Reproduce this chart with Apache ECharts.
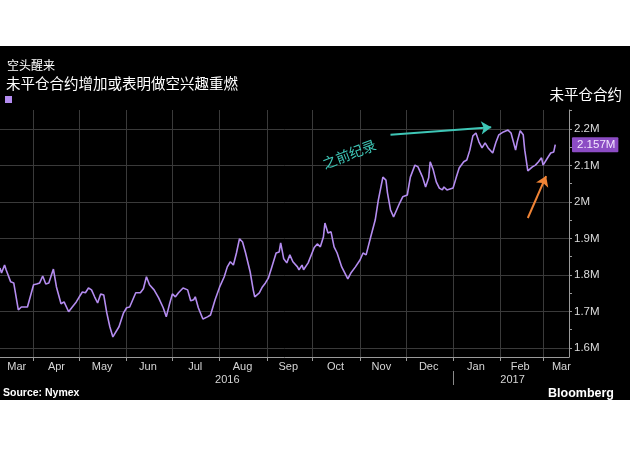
<!DOCTYPE html>
<html><head><meta charset="utf-8">
<script src="https://cdn.jsdelivr.net/npm/echarts@6/dist/echarts.min.js"></script>
<style>
html,body{margin:0;padding:0;background:#fff;width:630px;height:450px;overflow:hidden}
#c{position:absolute;left:0;top:46px;width:630px;height:354px;background:#000}
</style>
</head><body><div id="c"></div>
<script>
// ---- data ----
const dates = [
'2016-03-10','2016-03-11','2016-03-13','2016-03-14','2016-03-17','2016-03-19','2016-03-22','2016-03-24','2016-03-28',
'2016-04-01','2016-04-03','2016-04-05','2016-04-07','2016-04-09','2016-04-11','2016-04-14','2016-04-16','2016-04-19','2016-04-21','2016-04-24','2016-04-26','2016-04-29',
'2016-05-01','2016-05-03','2016-05-05','2016-05-07','2016-05-09','2016-05-11','2016-05-13','2016-05-15','2016-05-17','2016-05-19','2016-05-21','2016-05-23','2016-05-24','2016-05-27','2016-05-30',
'2016-06-01','2016-06-03','2016-06-07','2016-06-10','2016-06-12','2016-06-14','2016-06-16','2016-06-19','2016-06-22','2016-06-25','2016-06-27','2016-06-29',
'2016-07-01','2016-07-03','2016-07-05','2016-07-08','2016-07-11','2016-07-12','2016-07-13','2016-07-15','2016-07-16','2016-07-18','2016-07-21','2016-07-24','2016-07-26','2016-07-29',
'2016-08-01','2016-08-04','2016-08-06','2016-08-08','2016-08-10','2016-08-12','2016-08-14','2016-08-16','2016-08-18','2016-08-21','2016-08-22','2016-08-23','2016-08-24','2016-08-27','2016-08-29','2016-08-31',
'2016-09-02','2016-09-04','2016-09-07','2016-09-09','2016-09-10','2016-09-12','2016-09-14','2016-09-16','2016-09-18','2016-09-21','2016-09-22','2016-09-24','2016-09-25','2016-09-28','2016-09-29',
'2016-10-02','2016-10-04','2016-10-06','2016-10-08','2016-10-09','2016-10-11','2016-10-13','2016-10-15','2016-10-17','2016-10-20','2016-10-24','2016-10-26','2016-10-29',
'2016-11-01','2016-11-03','2016-11-05','2016-11-08','2016-11-11','2016-11-13','2016-11-16','2016-11-18','2016-11-19','2016-11-21','2016-11-23','2016-11-25','2016-11-27','2016-11-29',
'2016-12-02','2016-12-04','2016-12-07','2016-12-09','2016-12-12','2016-12-14','2016-12-16','2016-12-17','2016-12-19','2016-12-21','2016-12-23','2016-12-25','2016-12-26','2016-12-28',
'2017-01-01','2017-01-03','2017-01-05','2017-01-08','2017-01-10','2017-01-12','2017-01-14','2017-01-16','2017-01-18','2017-01-20','2017-01-22','2017-01-24','2017-01-27','2017-01-29','2017-01-31',
'2017-02-03','2017-02-06','2017-02-08','2017-02-11','2017-02-12','2017-02-14','2017-02-16','2017-02-17','2017-02-19','2017-02-22','2017-02-24','2017-02-26','2017-02-28',
'2017-03-01','2017-03-04','2017-03-06','2017-03-08','2017-03-09'
];
// open interest, millions of contracts
const openInterest = [
1.819,1.805,1.827,1.814,1.781,1.778,1.704,1.712,1.712,
1.773,1.775,1.778,1.797,1.775,1.778,1.816,1.767,1.721,1.726,1.699,1.710,1.726,
1.740,1.753,1.751,1.764,1.759,1.740,1.723,1.748,1.745,1.696,1.658,1.630,1.630,1.658,1.696,
1.710,1.712,1.751,1.751,1.762,1.795,1.773,1.759,1.737,1.710,1.685,1.718,
1.748,1.740,1.751,1.764,1.759,1.764,1.729,1.732,1.740,1.710,1.679,1.685,1.690,1.732,
1.767,1.795,1.822,1.836,1.827,1.860,1.899,1.890,1.860,1.808,1.811,1.759,1.740,1.751,1.767,1.778,
1.792,1.819,1.860,1.863,1.888,1.844,1.833,1.855,1.836,1.822,1.814,1.827,1.814,1.833,1.838,
1.875,1.885,1.877,1.904,1.942,1.915,1.918,1.877,1.860,1.822,1.789,1.805,1.822,
1.841,1.860,1.855,1.904,1.951,2.005,2.068,2.060,2.025,1.978,1.959,1.978,1.997,2.014,
2.019,2.068,2.101,2.096,2.068,2.041,2.066,2.110,2.088,2.055,2.038,2.033,2.041,2.033,
2.038,2.066,2.093,2.110,2.115,2.142,2.181,2.189,2.164,2.148,2.162,2.148,2.134,2.162,2.184,
2.192,2.197,2.189,2.142,2.164,2.195,2.184,2.142,2.085,2.096,2.101,2.110,2.121,
2.101,2.121,2.134,2.137,2.157
];
const xMin = '2016-03-10';
const xMax = '2017-03-18';
const monthStarts = ['2016-04-01','2016-05-01','2016-06-01','2016-07-01','2016-08-01','2016-09-01','2016-10-01','2016-11-01','2016-12-01','2017-01-01','2017-02-01','2017-03-01'];
const monthLabelDates = ['2016-03-21','2016-04-16','2016-05-16','2016-06-15','2016-07-16','2016-08-16','2016-09-15','2016-10-16','2016-11-15','2016-12-16','2017-01-16','2017-02-14','2017-03-13'];
const monthNames = ['Jan','Feb','Mar','Apr','May','Jun','Jul','Aug','Sep','Oct','Nov','Dec'];
const yearSplits = ['2017-01-01'];
const yearLabelDates = ['2016-08-06','2017-02-09'];
const yMin = 1.575, yMax = 2.252;
const yLabelValues = [1.6,1.7,1.8,1.9,2.0,2.1,2.2];
const yTickValues = [1.6,1.65,1.7,1.75,1.8,1.85,1.9,1.95,2.0,2.05,2.1,2.15,2.2,2.25];
const lastValue = openInterest[openInterest.length-1];
// annotations (data coordinates)
const recordArrow = [['2016-11-21',2.184],['2017-01-26',2.205]];
const recordText = {date:'2016-10-25', value:2.131, text:'之前纪录'};
const riseArrow = [['2017-02-19',1.956],['2017-03-03',2.071]];

// day-precision timestamps (local midnight)
const ts = s => { const p = s.split('-').map(Number); return new Date(p[0], p[1]-1, p[2]).getTime(); };
const LATIN = 'Liberation Sans, Arial, sans-serif';
const CJK = 'Noto Sans CJK SC, sans-serif';
const lineColor = '#b48cf0';
const teal = '#3ec6b6', orange = '#f08436';

const chart = echarts.init(document.getElementById('c'), null, {renderer:'canvas'});
chart.setOption({
  backgroundColor:'#000',
  animation:false,
  title:[
    {text:'空头醒来', left:7, top:13, padding:0, textStyle:{color:'#fff', fontSize:12, fontWeight:'normal', fontFamily:CJK}},
    {text:'未平仓合约增加或表明做空兴趣重燃', left:6, top:30, padding:0, textStyle:{color:'#fff', fontSize:14.5, fontWeight:'normal', fontFamily:CJK}},
    {text:'未平仓合约', right:8, top:41, padding:0, textStyle:{color:'#fff', fontSize:14.5, fontWeight:'normal', fontFamily:CJK}},
    {text:'Source: Nymex', left:3, top:342, padding:0, textStyle:{color:'#fff', fontSize:10.5, fontWeight:'bold', fontFamily:LATIN}},
    {text:'Bloomberg', right:16, top:341, padding:0, textStyle:{color:'#fff', fontSize:12.5, fontWeight:'bold', fontFamily:LATIN}}
  ],
  legend:{show:true, left:5, top:50, padding:0, itemWidth:7, itemHeight:7, itemGap:0, icon:'rect',
    formatter:()=>'', textStyle:{fontSize:1}, data:['未平仓合约']},
  grid:{left:0, right:61, top:64, bottom:43, containLabel:false},
  xAxis:[
    {type:'value', min:ts(xMin), max:ts(xMax),
      axisLine:{show:true, lineStyle:{color:'#9a9a9a', width:1}},
      axisTick:{show:true, length:4, customValues:monthStarts.map(ts), lineStyle:{color:'#9a9a9a'}},
      axisLabel:{customValues:monthLabelDates.map(ts), formatter:v=>monthNames[new Date(v).getMonth()],
        color:'#d6d6d6', fontSize:11, margin:4, fontFamily:LATIN},
      splitLine:{show:true, lineStyle:{color:'#3a3a3a', width:1}}},
    {type:'value', min:ts(xMin), max:ts(xMax), position:'bottom', offset:14,
      axisLine:{show:false},
      axisTick:{show:true, length:14, customValues:yearSplits.map(ts), lineStyle:{color:'#8a8a8a'}},
      axisLabel:{customValues:yearLabelDates.map(ts), formatter:v=>String(new Date(v).getFullYear()),
        color:'#d6d6d6', fontSize:11, margin:3, fontFamily:LATIN},
      splitLine:{show:false}}
  ],
  yAxis:[
    {type:'value', position:'right', min:yMin, max:yMax,
      axisLine:{show:true, lineStyle:{color:'#9a9a9a'}},
      axisTick:{show:true, length:3, customValues:yTickValues, lineStyle:{color:'#9a9a9a'}},
      axisLabel:{customValues:yLabelValues, formatter:v=>(Math.round(v*10)/10)+'M',
        color:'#dcdcdc', fontSize:11.5, margin:5, fontFamily:LATIN},
      splitLine:{show:false}},
    {type:'value', position:'right', min:yMin, max:yMax,
      axisLine:{show:false}, axisTick:{show:false, customValues:yLabelValues},
      axisLabel:{show:false}, splitLine:{show:true, lineStyle:{color:'#3a3a3a', width:1}}},
    {type:'value', position:'right', min:yMin, max:yMax,
      axisLine:{show:false}, axisTick:{show:false},
      axisLabel:{customValues:[lastValue], formatter:v=>v.toFixed(3)+'M',
        color:'#f3e6ff', fontSize:11.5, margin:3, fontFamily:LATIN,
        backgroundColor:'#8c4cc4', padding:[2,3,1,5], borderRadius:1},
      splitLine:{show:false}}
  ],
  series:[{
    name:'未平仓合约', type:'line', xAxisIndex:0, yAxisIndex:0,
    data:dates.map((d,i)=>[ts(d), openInterest[i]]),
    showSymbol:false, symbol:'none',
    lineStyle:{color:lineColor, width:1.6}, itemStyle:{color:lineColor},
    silent:true,
    markLine:{silent:true, animation:false, label:{show:false}, symbol:['none','arrow'], symbolSize:10,
      data:[
        [{coord:[ts(recordArrow[0][0]), recordArrow[0][1]], symbol:'none', lineStyle:{color:teal, width:2, type:'solid'}, itemStyle:{color:teal}},
         {coord:[ts(recordArrow[1][0]), recordArrow[1][1]], symbol:'arrow', symbolSize:10, itemStyle:{color:teal}}],
        [{coord:[ts(riseArrow[0][0]), riseArrow[0][1]], symbol:'none', lineStyle:{color:orange, width:2, type:'solid'}, itemStyle:{color:orange}},
         {coord:[ts(riseArrow[1][0]), riseArrow[1][1]], symbol:'arrow', symbolSize:10, itemStyle:{color:orange}}]
      ]},
    markPoint:{silent:true, animation:false, symbol:'circle', symbolSize:0,
      data:[{coord:[ts(recordText.date), recordText.value], value:recordText.text,
        label:{show:true, position:'inside', formatter:recordText.text, rotate:21, color:teal,
          fontSize:14, fontFamily:CJK}}]}
  }]
});
</script>
</body></html>
